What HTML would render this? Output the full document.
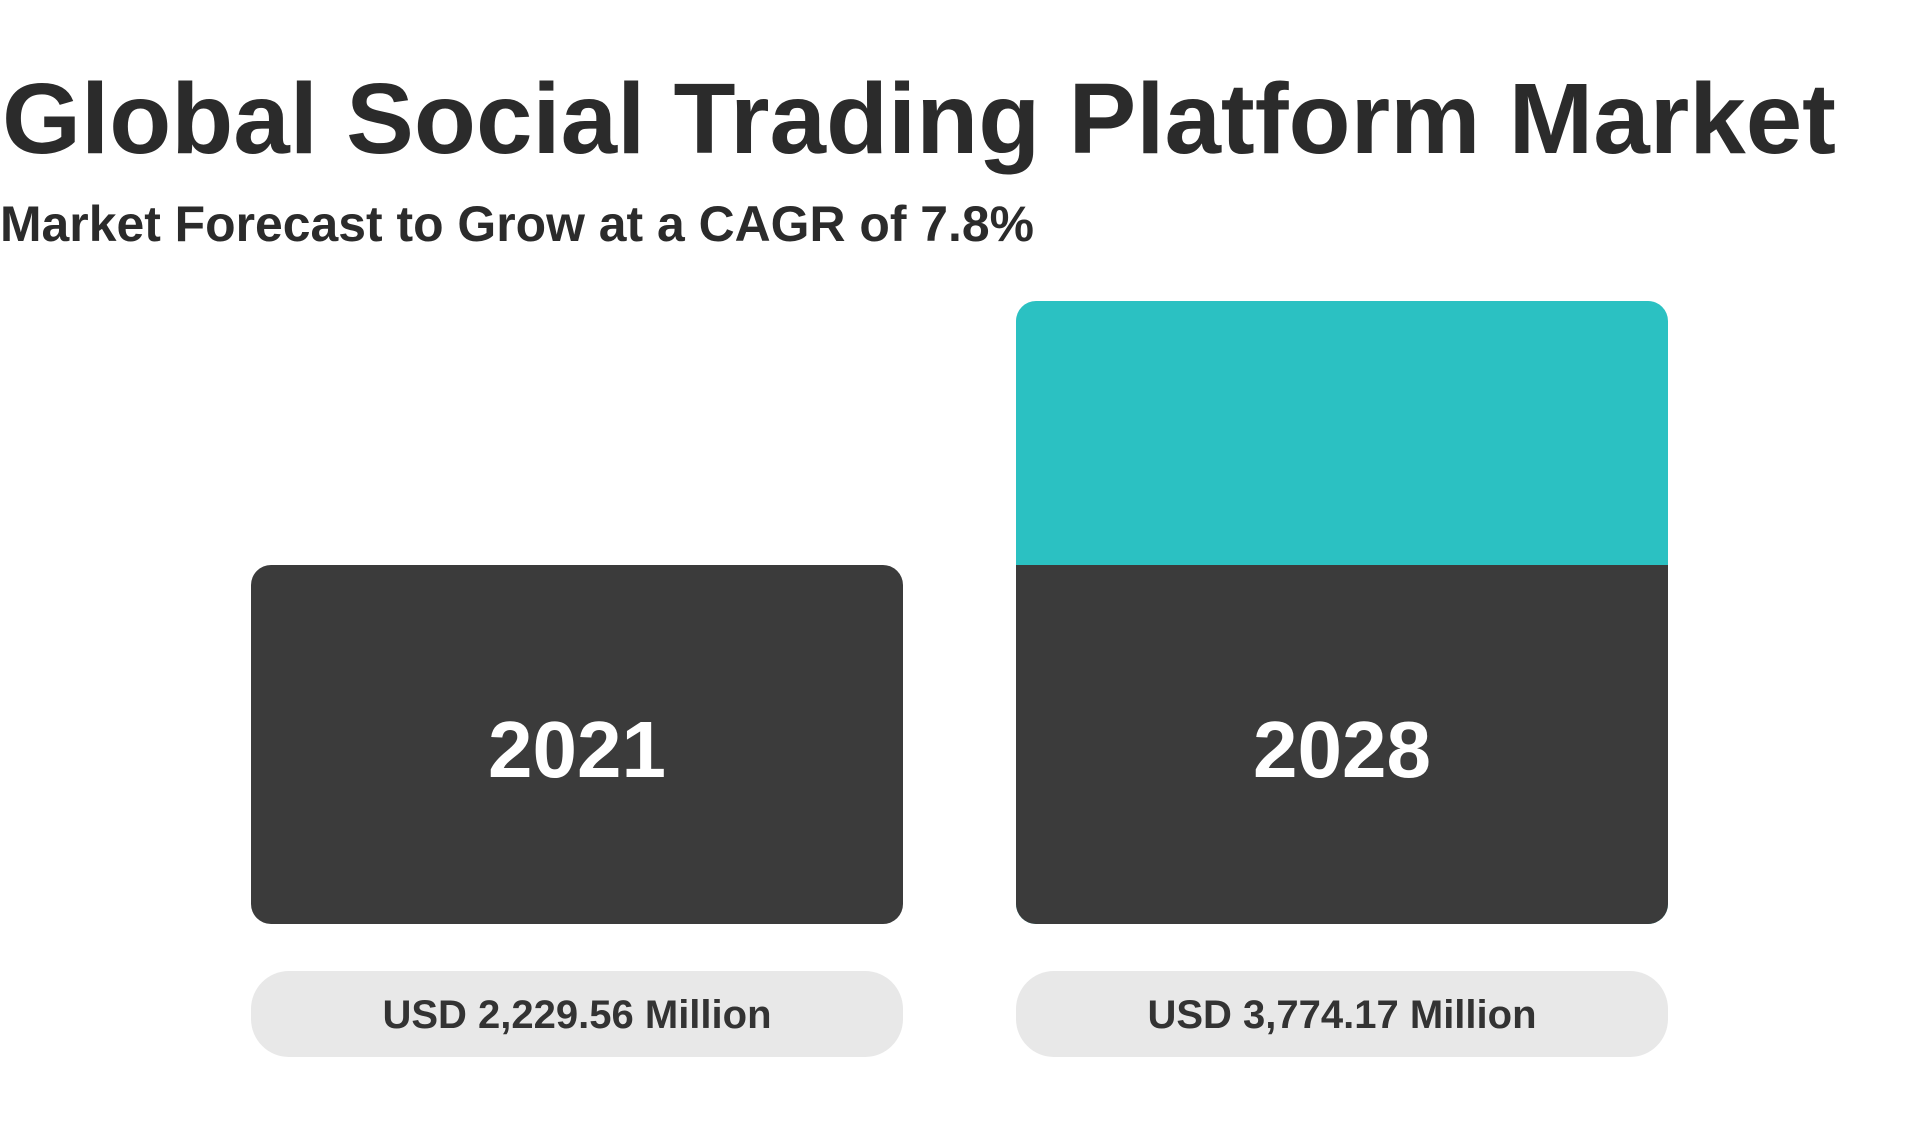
<!DOCTYPE html>
<html><head><meta charset="utf-8"><style>
html,body{margin:0;padding:0;background:#fff;width:1920px;height:1139px;overflow:hidden}
text{font-family:"Liberation Sans",sans-serif;font-weight:bold}
</style></head><body>
<svg id="chart" width="1920" height="1139" viewBox="0 0 1920 1139" xmlns="http://www.w3.org/2000/svg">
<text x="2" y="153" font-size="100" fill="#2b2b2b" textLength="1834" lengthAdjust="spacingAndGlyphs">Global Social Trading Platform Market</text>
<text x="0" y="241" font-size="50" fill="#2b2b2b" textLength="1034" lengthAdjust="spacingAndGlyphs">Market Forecast to Grow at a CAGR of 7.8%</text>
<g id="bars"></g>
</svg>
<script>
const categories = ["2021", "2028"];
const values = [2229.56, 3774.17];
const valueLabels = ["USD 2,229.56 Million", "USD 3,774.17 Million"];

const NS = "http://www.w3.org/2000/svg";
const baseY = 924, topY = 301, barW = 652, xs0 = 251, gap = 765;
function yScale(v){ return baseY - (v / values[1]) * (baseY - topY); }
function xPos(i){ return xs0 + i * gap; }
function mk(tag, attrs){ const e = document.createElementNS(NS, tag); for (const k in attrs) e.setAttribute(k, attrs[k]); return e; }
const g = document.getElementById('bars');
const baseH = 359;
categories.forEach((c, i) => {
  const x = xPos(i);
  const top = yScale(values[i]);
  const h = i === 0 ? Math.min(baseH * values[i] / values[0], baseY - top) : baseY - top;
  if (i > 0) {
    const teal = mk('rect', {x: x, y: top, width: barW, height: baseY - top, rx: 20, fill: '#2bc1c2'});
    
    
    g.appendChild(teal);
  }
  const dh = i === 0 ? h : baseH;
  const dark = mk('rect', {x: x, y: baseY - dh, width: barW, height: dh, rx: 20, fill: '#3b3b3b'});
  
  
  g.appendChild(dark);
  if (i > 0) {
    const sq = mk('rect', {x: x, y: baseY - dh, width: barW, height: 24, fill: '#3b3b3b'});
    
    
    g.appendChild(sq);
  }
  const yr = mk('text', {x: x + barW / 2, y: 777, 'font-size': 80, fill: '#ffffff', 'text-anchor': 'middle'});
  yr.textContent = c;
  
  
  g.appendChild(yr);
  const pill = mk('rect', {x: x, y: 971, width: barW, height: 86, rx: 38, fill: '#e8e8e8'});
  
  
  g.appendChild(pill);
  const vl = mk('text', {x: x + barW / 2, y: 1028, 'font-size': 40, fill: '#333333', 'text-anchor': 'middle'});
  vl.textContent = valueLabels[i];
  
  
  g.appendChild(vl);
});
</script>
</body></html>
